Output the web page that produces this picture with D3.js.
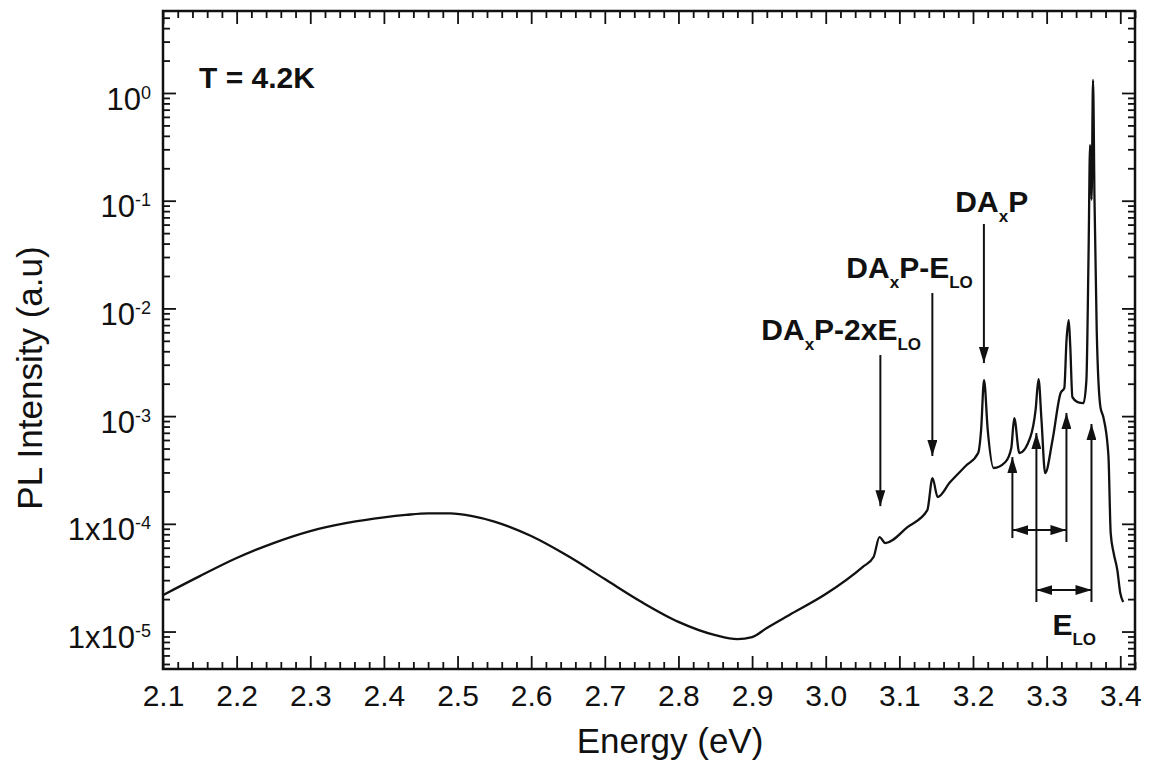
<!DOCTYPE html>
<html>
<head>
<meta charset="utf-8">
<script src="https://cdn.jsdelivr.net/npm/d3@7"></script>
<style>
  body { margin: 0; background: #fff; }
  svg { display: block; font-family: "Liberation Sans", Arial, Helvetica, sans-serif; }
  .tick line { stroke: #111; stroke-width: 1.8; }
  .domain { display: none; }
</style>
</head>
<body>
<svg id="chart" width="1149" height="763"></svg>
<script>
// PL spectrum (energy in eV, intensity in a.u.)
const energy = [2.100, 2.150, 2.200, 2.250, 2.300, 2.350, 2.400, 2.430, 2.460, 2.490,
  2.520, 2.550, 2.600, 2.650, 2.700, 2.750, 2.800, 2.850, 2.880, 2.900, 2.920,
  2.950, 3.000, 3.050, 3.065, 3.073, 3.081, 3.111, 3.138, 3.145, 3.152,
  3.169, 3.190, 3.207, 3.211, 3.215, 3.220, 3.228, 3.244, 3.252, 3.256,
  3.263, 3.278, 3.285, 3.289, 3.293, 3.298, 3.308, 3.319, 3.324, 3.327,
  3.330, 3.332, 3.335, 3.342, 3.350, 3.354, 3.357, 3.359, 3.361, 3.363,
  3.365, 3.368, 3.373, 3.377, 3.383, 3.384, 3.387, 3.391, 3.396, 3.400, 3.404];
const intensity = [2.18e-5, 3.27e-5, 4.81e-5, 6.63e-5, 8.57e-5, 1.02e-4, 1.15e-4, 1.21e-4, 1.25e-4, 1.25e-4,
  1.18e-4, 1.05e-4, 7.7e-5, 5.02e-5, 3.07e-5, 1.88e-5, 1.23e-5, 9.27e-6, 8.51e-6, 8.89e-6, 1.08e-5,
  1.42e-5, 2.23e-5, 3.97e-5, 4.92e-5, 7.54e-5, 6.63e-5, 9.33e-5, 1.34e-4, 2.66e-4, 1.77e-4,
  2.44e-4, 3.44e-4, 4.54e-4, 7.43e-4, 2.16e-3, 7.43e-4, 3.3e-4, 3.75e-4, 5.06e-4, 9.6e-4,
  4.54e-4, 6.4e-4, 1.14e-3, 2.21e-3, 9.2e-4, 2.96e-4, 6.0e-4, 1.64e-3, 1.82e-3, 5.09e-3,
  7.8e-3, 4.57e-3, 1.5e-3, 1.35e-3, 1.32e-3, 2.16e-3, 0.0348, 0.329, 0.102, 1.32,
  0.102, 6.3e-3, 1.22e-3, 9.8e-4, 5.17e-4, 4.17e-4, 8.2e-5, 5.36e-5, 3.72e-5, 2.28e-5, 1.88e-5];

const xTicks = [2.1, 2.2, 2.3, 2.4, 2.5, 2.6, 2.7, 2.8, 2.9, 3.0, 3.1, 3.2, 3.3, 3.4];
const yTicks = [1e-5, 1e-4, 1e-3, 1e-2, 1e-1, 1];
const yTickLabels = [['1x10', '-5'], ['1x10', '-4'], ['10', '-3'], ['10', '-2'], ['10', '-1'], ['10', '0']];

// labels: [parts, energy, intensity of baseline]
const textLabels = [
  [[['T = 4.2K']], 2.149, 1.11],
  [[['DA'], ['x', 1], ['P']], 3.176, 0.0785],
  [[['DA'], ['x', 1], ['P-E'], ['LO', 1]], 3.028, 0.0191],
  [[['DA'], ['x', 1], ['P-2xE'], ['LO', 1]], 2.9125, 5.09e-3],
  [[['E'], ['LO', 1]], 3.3079, 9.28e-6]
];
// down arrows: [energy, intensity top, intensity tip]
const peakArrows = [[3.2148, 0.0608, 3.11e-3], [3.1448, 0.0139, 4.26e-4], [3.0742, 3.69e-3, 1.46e-4]];
// up arrows for the LO spacing: [energy, intensity bottom, intensity tip]
const loLines = [[3.2535, 7.38e-5, 4.17e-4], [3.2861, 1.88e-5, 6.97e-4], [3.3269, 6.78e-5, 1.07e-3], [3.3609, 1.88e-5, 8.45e-4]];
// double arrows: [energy from, energy to, intensity]
const loSpans = [[3.2535, 3.3269, 8.75e-5], [3.2861, 3.3609, 2.43e-5]];

const PAD = { left: 163, right: 14, top: 11, bottom: 94 };
const svg = d3.select('#chart');
const W = +svg.attr('width'), H = +svg.attr('height');

const x = d3.scaleLinear().domain([2.1, 3.42]).range([PAD.left, W - PAD.right]);
const y = d3.scaleLog().domain([4.49e-6, 5.77]).range([H - PAD.bottom, PAD.top]);

const xMinor = d3.range(0, 67).filter(i => i % 5 !== 0).map(i => +(2.1 + i * 0.02).toFixed(2));
const yMinor = [];
for (let k = -6; k <= 0; k++) {
  for (let m = 2; m <= 9; m++) {
    const v = m * Math.pow(10, k);
    if (v > y.domain()[0] && v < y.domain()[1]) yMinor.push(v);
  }
}

const defs = svg.append('defs');
defs.append('marker')
  .attr('id', 'head')
  .attr('markerUnits', 'userSpaceOnUse')
  .attr('viewBox', '0 0 16 10')
  .attr('markerWidth', 16)
  .attr('markerHeight', 10)
  .attr('refX', 16)
  .attr('refY', 5)
  .attr('orient', 'auto-start-reverse')
  .append('path')
  .attr('d', 'M0,0L16,5L0,10Z')
  .attr('fill', '#111');

const bottomY = H - PAD.bottom, rightX = W - PAD.right;

// major + minor ticks on all four sides
svg.append('g').attr('transform', 'translate(0,' + bottomY + ')')
  .call(d3.axisBottom(x).tickValues(xMinor).tickSize(-7).tickFormat(''));
svg.append('g').attr('class', 'axis-x').attr('transform', 'translate(0,' + bottomY + ')')
  .call(d3.axisBottom(x).tickValues(xTicks).tickSize(-13).tickPadding(16).tickFormat(d3.format('.1f')))
  .selectAll('text')
  .attr('font-size', 30)
  .attr('fill', '#111');
svg.append('g').attr('transform', 'translate(0,' + PAD.top + ')')
  .call(d3.axisTop(x).tickValues(xMinor).tickSize(-7).tickFormat(''));
svg.append('g').attr('transform', 'translate(0,' + PAD.top + ')')
  .call(d3.axisTop(x).tickValues(xTicks).tickSize(-13).tickFormat(''));

svg.append('g').attr('transform', 'translate(' + PAD.left + ',0)')
  .call(d3.axisLeft(y).tickValues(yMinor).tickSize(-7).tickFormat(''));
svg.append('g').attr('class', 'axis-y').attr('transform', 'translate(' + PAD.left + ',0)')
  .call(d3.axisLeft(y).tickValues(yTicks).tickSize(-13).tickPadding(12).tickFormat(() => ''))
  .selectAll('.tick text')
  .attr('dy', '0.52em')
  .attr('font-size', 31)
  .attr('fill', '#111')
  .each(function (d) {
    const lab = yTickLabels[yTicks.indexOf(d)];
    const t = d3.select(this);
    t.append('tspan').text(lab[0]);
    t.append('tspan').attr('font-size', 18).attr('dy', -11).text(lab[1]);
  });
svg.append('g').attr('transform', 'translate(' + rightX + ',0)')
  .call(d3.axisRight(y).tickValues(yMinor).tickSize(-7).tickFormat(''));
svg.append('g').attr('transform', 'translate(' + rightX + ',0)')
  .call(d3.axisRight(y).tickValues(yTicks).tickSize(-13).tickFormat(''));

svg.append('rect')
  .attr('x', PAD.left)
  .attr('y', PAD.top)
  .attr('width', rightX - PAD.left)
  .attr('height', bottomY - PAD.top)
  .attr('fill', 'none')
  .attr('stroke', '#111')
  .attr('stroke-width', 2.5);

// spectrum
const line = d3.line()
  .x(d => x(d[0]))
  .y(d => y(d[1]))
  .curve(d3.curveMonotoneX);

svg.append('path')
  .datum(d3.zip(energy, intensity))
  .attr('d', line)
  .attr('fill', 'none')
  .attr('stroke', '#111')
  .attr('stroke-width', 2.3)
  .attr('stroke-linejoin', 'round');

// arrows
const arrows = svg.append('g')
  .attr('stroke', '#111')
  .attr('stroke-width', 2);

arrows.selectAll('.peak-arrow')
  .data(peakArrows)
  .enter()
  .append('line')
  .attr('class', 'peak-arrow')
  .attr('x1', d => x(d[0]))
  .attr('x2', d => x(d[0]))
  .attr('y1', d => y(d[1]))
  .attr('y2', d => y(d[2]))
  .attr('marker-end', 'url(#head)');

arrows.selectAll('.lo-line')
  .data(loLines)
  .enter()
  .append('line')
  .attr('class', 'lo-line')
  .attr('x1', d => x(d[0]))
  .attr('x2', d => x(d[0]))
  .attr('y1', d => y(d[1]))
  .attr('y2', d => y(d[2]))
  .attr('marker-end', 'url(#head)');

arrows.selectAll('.lo-span')
  .data(loSpans)
  .enter()
  .append('line')
  .attr('class', 'lo-span')
  .attr('x1', d => x(d[0]))
  .attr('x2', d => x(d[1]))
  .attr('y1', d => y(d[2]))
  .attr('y2', d => y(d[2]))
  .attr('marker-start', 'url(#head)')
  .attr('marker-end', 'url(#head)');

// annotation texts with subscripts
textLabels.forEach(lab => {
  const t = svg.append('text')
    .attr('x', x(lab[1]))
    .attr('y', y(lab[2]))
    .attr('font-size', 30)
    .attr('font-weight', 'bold')
    .attr('fill', '#111');
  let shifted = false;
  lab[0].forEach(p => {
    const ts = t.append('tspan').text(p[0]);
    if (p[1] && !shifted) {
      ts.attr('font-size', 17).attr('dy', 10);
      shifted = true;
    } else if (!p[1] && shifted) {
      ts.attr('dy', -10);
      shifted = false;
    }
  });
});

// axis titles
svg.append('text')
  .attr('x', 670)
  .attr('y', 753)
  .attr('text-anchor', 'middle')
  .attr('font-size', 35)
  .attr('fill', '#111')
  .text('Energy (eV)');

svg.append('text')
  .attr('transform', 'translate(42,378) rotate(-90)')
  .attr('text-anchor', 'middle')
  .attr('font-size', 35)
  .attr('fill', '#111')
  .text('PL Intensity (a.u)');
</script>
</body>
</html>
